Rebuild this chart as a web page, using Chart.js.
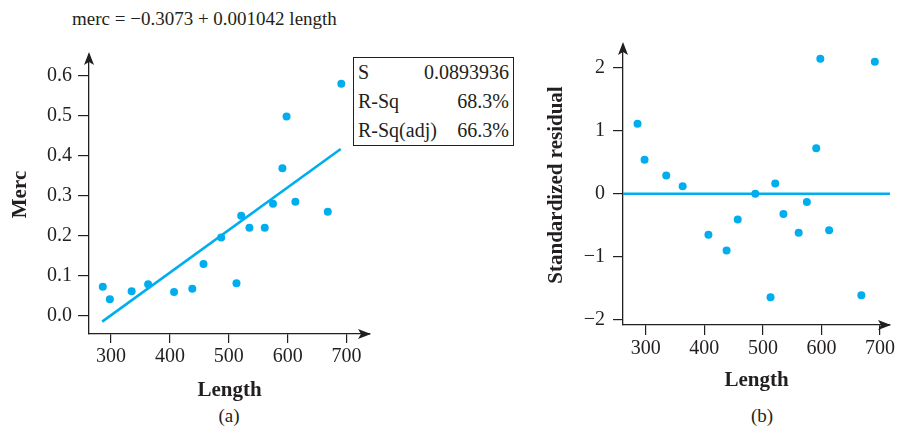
<!DOCTYPE html>
<html>
<head>
<meta charset="utf-8">
<script src="https://cdn.jsdelivr.net/npm/chart.js@4.4.0/dist/chart.umd.min.js"></script>
<style>
  html, body { margin: 0; padding: 0; background: #fff; }
  body {
    width: 898px; height: 430px; position: relative; overflow: hidden;
    font-family: "Liberation Serif", "DejaVu Serif", serif; color: #231f20;
  }
  #leftChart { position: absolute; left: 0; top: 0; }
  #rightChart { position: absolute; left: 520px; top: 0; }
  .eq { position: absolute; left: 72px; top: 8px; font-size: 19px; white-space: nowrap; }
  .stats {
    position: absolute; left: 353px; top: 57px; width: 159px;
    border: 1.3px solid #231f20; font-size: 20px; background: #fff;
  }
  .stats div { display: flex; justify-content: space-between; height: 29px; line-height: 29px; padding: 0 4px; }
  .cap { position: absolute; font-size: 19px; transform: translateX(-50%); }
</style>
</head>
<body>
<div class="eq">merc = −0.3073 + 0.001042 length</div>
<canvas id="leftChart" width="460" height="403"></canvas>
<canvas id="rightChart" width="378" height="393"></canvas>
<div class="stats">
  <div><span>S</span><span>0.0893936</span></div>
  <div><span>R-Sq</span><span>68.3%</span></div>
  <div><span>R-Sq(adj)</span><span>66.3%</span></div>
</div>
<div class="cap" style="left:229px; top:405px;">(a)</div>
<div class="cap" style="left:762px; top:405px;">(b)</div>

<script>
// fish length vs mercury
const lengths = [286, 298, 335, 363, 407, 438, 457, 487, 513, 521, 535, 561, 575, 591, 598, 613, 668, 691];
const merc = [0.073, 0.042, 0.062, 0.079, 0.060, 0.068, 0.130, 0.196, 0.082, 0.250,
              0.220, 0.220, 0.280, 0.369, 0.498, 0.285, 0.260, 0.580];
const stdResid = [1.11, 0.54, 0.29, 0.12, -0.65, -0.90, -0.41, 0.00, -1.64, 0.16,
                  -0.32, -0.62, -0.13, 0.72, 2.14, -0.58, -1.61, 2.09];

// fitted line endpoints as drawn
const fitX = [285, 690];
const fitY = [-0.014, 0.417];

const lengthTicks = [300, 400, 500, 600, 700];
const mercTicks = [0, 0.1, 0.2, 0.3, 0.4, 0.5, 0.6];
const residTicks = [-2, -1, 0, 1, 2];

const CYAN = "#00aeef";
const INK = "#231f20";
const SERIF = "'Liberation Serif', 'Times New Roman', serif";

// axis ranges so the plot boxes sit where the reference has them
const leftX = { min: 262.6, max: 739.7 };
const leftY = { min: -0.045, max: 0.6515 };
const rightX = { min: 261.2, max: 716.9 };
const rightY = { min: -2.081, max: 2.357 };

const arrows = {
  id: "arrows",
  afterDraw(chart) {
    const { ctx, chartArea: a } = chart;
    ctx.save();
    ctx.fillStyle = INK;
    // up arrow on y axis
    ctx.beginPath();
    ctx.moveTo(a.left, a.top - 3);
    ctx.lineTo(a.left - 5, a.top + 10);
    ctx.lineTo(a.left, a.top + 7);
    ctx.lineTo(a.left + 5, a.top + 10);
    ctx.closePath();
    ctx.fill();
    // right arrow on x axis
    ctx.beginPath();
    ctx.moveTo(a.right + 1, a.bottom);
    ctx.lineTo(a.right - 12, a.bottom - 5);
    ctx.lineTo(a.right - 9, a.bottom);
    ctx.lineTo(a.right - 12, a.bottom + 5);
    ctx.closePath();
    ctx.fill();
    ctx.restore();
  }
};

function fixedTicks(list) {
  return (scale) => { scale.ticks = list.map(v => ({ value: v })); };
}

function axis(range, ticks, fmt, title, titlePad) {
  return {
    type: "linear",
    min: range.min,
    max: range.max,
    afterBuildTicks: fixedTicks(ticks),
    border: { display: true, color: INK, width: 1.3 },
    grid: { drawOnChartArea: false, drawTicks: true, color: INK, lineWidth: 1.2 },
    ticks: {
      color: INK, font: { family: SERIF, size: 20 }, autoSkip: false,
      maxRotation: 0, callback: fmt
    },
    title: {
      display: true, text: title, color: INK,
      font: { family: SERIF, size: 21, weight: "bold" }, padding: titlePad
    }
  };
}

function makeChart(id, datasets, scales, padding) {
  return new Chart(document.getElementById(id), {
    type: "scatter",
    data: { datasets },
    options: {
      responsive: false,
      animation: false,
      layout: { padding },
      plugins: { legend: { display: false }, tooltip: { enabled: false } },
      scales
    },
    plugins: [arrows]
  });
}

const dots = (ys) => ({
  data: lengths.map((x, i) => ({ x, y: ys[i] })),
  pointRadius: 4,
  pointBackgroundColor: CYAN,
  pointBorderWidth: 0,
  order: 1
});

const leftScales = {
  x: axis(leftX, lengthTicks, v => String(v), "Length", { top: 0, bottom: 0 }),
  y: axis(leftY, mercTicks, v => v.toFixed(1), "Merc", { top: 8, bottom: 0 })
};
leftScales.x.grid.tickLength = 9;
leftScales.x.ticks.padding = 2;
leftScales.x.afterFit = s => { s.height = 69; };
leftScales.y.grid.tickLength = 11;
leftScales.y.ticks.padding = 6;
leftScales.y.afterFit = s => { s.width = 89; };

makeChart("leftChart", [
  dots(merc),
  {
    data: fitX.map((x, i) => ({ x, y: fitY[i] })),
    showLine: true, borderColor: CYAN, borderWidth: 2.6, pointRadius: 0, order: 2
  }
], leftScales, { left: 0, right: 90, top: 55, bottom: 0 });

const rightScales = {
  x: axis(rightX, lengthTicks, v => String(v), "Length", { top: 0, bottom: 0 }),
  y: axis(rightY, residTicks, v => (v < 0 ? "\u2212" + Math.abs(v) : String(v)),
          "Standardized residual", { top: 24, bottom: 0 })
};
rightScales.x.grid.tickLength = 10;
rightScales.x.ticks.padding = 2;
rightScales.x.afterFit = s => { s.height = 68; };
rightScales.y.grid.tickLength = 10;
rightScales.y.ticks.padding = 8;
rightScales.y.afterFit = s => { s.width = 103; };

makeChart("rightChart", [
  dots(stdResid),
  {
    data: [{ x: rightX.min, y: 0 }, { x: rightX.max, y: 0 }],
    showLine: true, borderColor: CYAN, borderWidth: 2.6, pointRadius: 0, order: 2
  }
], rightScales, { left: 0, right: 8, top: 45, bottom: 0 });
</script>
</body>
</html>
